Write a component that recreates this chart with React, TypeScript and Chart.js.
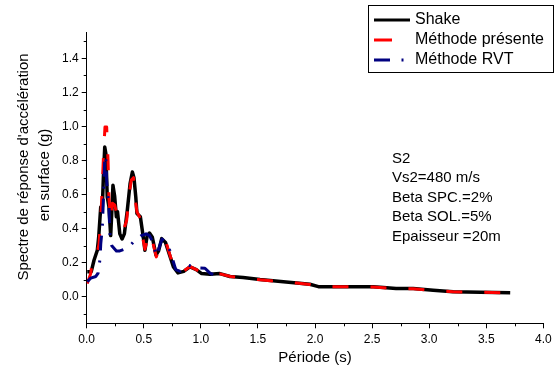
import React, { useEffect, useRef } from "react";
import { Chart, registerables } from "chart.js";

Chart.register(...registerables);

// Période (s) and spectral acceleration (g)
const shakeT = [0.005, 0.04, 0.064, 0.093, 0.105, 0.123, 0.137, 0.146, 0.158, 0.168, 0.18, 0.195, 0.21, 0.22, 0.23, 0.245, 0.26, 0.27, 0.29, 0.31, 0.33, 0.356, 0.38, 0.4, 0.414, 0.43, 0.44, 0.47, 0.5, 0.51, 0.53, 0.55, 0.575, 0.607, 0.63, 0.657, 0.69, 0.76, 0.8, 0.85, 0.905, 0.96, 1.007, 1.08, 1.167, 1.255, 1.37, 1.518, 1.7, 1.84, 1.955, 2.03, 2.25, 2.51, 2.6, 2.71, 2.86, 3.035, 3.21, 3.45, 3.71];
const shakeSa = [0.147, 0.148, 0.215, 0.274, 0.35, 0.528, 0.528, 0.7, 0.88, 0.84, 0.587, 0.53, 0.36, 0.5, 0.655, 0.59, 0.47, 0.5, 0.37, 0.34, 0.37, 0.51, 0.665, 0.733, 0.7, 0.587, 0.49, 0.47, 0.33, 0.274, 0.36, 0.375, 0.35, 0.245, 0.27, 0.342, 0.32, 0.176, 0.141, 0.15, 0.176, 0.16, 0.137, 0.133, 0.137, 0.12, 0.114, 0.102, 0.09, 0.082, 0.074, 0.06, 0.06, 0.059, 0.055, 0.049, 0.049, 0.039, 0.03, 0.027, 0.024];

const presT = [0.005, 0.035, 0.05, 0.08, 0.108, 0.128, 0.146, 0.16, 0.175, 0.187, 0.195, 0.21, 0.225, 0.245, 0.27, 0.3, 0.327, 0.35, 0.37, 0.39, 0.41, 0.43, 0.44, 0.47, 0.49, 0.51, 0.545, 0.575, 0.61, 0.66, 0.695, 0.76, 0.8, 0.85, 0.905, 0.96, 1.01, 1.08, 1.17, 1.26, 1.37, 1.52, 1.7, 1.84, 1.955, 2.03, 2.25, 2.51, 2.6, 2.71, 2.86, 3.035, 3.21, 3.45, 3.7];
const presSa = [0.078, 0.137, 0.215, 0.215, 0.31, 0.52, 0.81, 0.997, 0.997, 0.8, 0.58, 0.45, 0.55, 0.54, 0.47, 0.45, 0.4, 0.45, 0.59, 0.685, 0.7, 0.55, 0.5, 0.46, 0.35, 0.28, 0.375, 0.33, 0.235, 0.335, 0.32, 0.18, 0.142, 0.152, 0.178, 0.16, 0.14, 0.132, 0.135, 0.12, 0.112, 0.1, 0.09, 0.081, 0.073, 0.06, 0.06, 0.058, 0.054, 0.049, 0.048, 0.038, 0.03, 0.027, 0.024];

const rvtT = [0.005, 0.035, 0.08, 0.1, 0.117, 0.123, 0.137, 0.146, 0.158, 0.167, 0.175, 0.187, 0.195, 0.205, 0.22, 0.26, 0.29, 0.33, 0.38, 0.42, 0.48, 0.52, 0.55, 0.58, 0.61, 0.66, 0.7, 0.73, 0.78, 0.82, 0.89, 0.97, 1.036, 1.08, 1.15];
const rvtSa = [0.09, 0.11, 0.12, 0.14, 0.225, 0.31, 0.41, 0.57, 0.81, 0.83, 0.68, 0.58, 0.52, 0.34, 0.3, 0.27, 0.27, 0.28, 0.3, 0.33, 0.36, 0.37, 0.36, 0.32, 0.24, 0.34, 0.31, 0.27, 0.16, 0.15, 0.186, 0.17, 0.168, 0.14, 0.117];

const yTicks = [0, 0.2, 0.4, 0.6, 0.8, 1.0, 1.2, 1.4];
const yMinor = [-0.1, 0.1, 0.3, 0.5, 0.7, 0.9, 1.1, 1.3, 1.5];
const xMinor = [0.25, 0.75, 1.25, 1.75, 2.25, 2.75, 3.25, 3.75];

const seriesNames = ["Shake", "Méthode présente", "Méthode RVT"];
const infoLines = ["S2", "Vs2=480 m/s", "Beta SPC.=2%", "Beta SOL.=5%", "Epaisseur =20m"];
const xTitle = "Période (s)";
const yTitle = ["Spectre de réponse d'accélération", "en surface (g)"];

const FONT = "'Liberation Sans', Arial, sans-serif";

const toXY = (t: number[], v: number[]) => t.map((x, i) => ({ x, y: v[i] }));

const decorPlugin = {
  id: "decor",
  afterDraw(chart: any) {
    const ctx = chart.ctx as CanvasRenderingContext2D;
    const xs = chart.scales.x;
    const ys = chart.scales.y;
    const area = chart.chartArea;
    ctx.save();
    // minor ticks
    ctx.strokeStyle = "#000";
    ctx.lineWidth = 1;
    ctx.beginPath();
    yMinor.forEach((v) => {
      const py = Math.round(ys.getPixelForValue(v)) + 0.5;
      ctx.moveTo(area.left, py);
      ctx.lineTo(area.left - 3, py);
    });
    xMinor.forEach((v) => {
      const px = Math.round(xs.getPixelForValue(v)) + 0.5;
      ctx.moveTo(px, area.bottom);
      ctx.lineTo(px, area.bottom + 3);
    });
    ctx.stroke();

    // axis titles
    ctx.fillStyle = "#000";
    ctx.font = `15px ${FONT}`;
    ctx.textAlign = "center";
    ctx.textBaseline = "middle";
    ctx.fillText(xTitle, (area.left + area.right) / 2, 358);
    ctx.save();
    ctx.translate(24, 167);
    ctx.rotate(-Math.PI / 2);
    ctx.fillText(yTitle[0], 0, 0);
    ctx.restore();
    ctx.save();
    ctx.translate(45, 175);
    ctx.rotate(-Math.PI / 2);
    ctx.fillText(yTitle[1], 0, 0);
    ctx.restore();

    // info text
    ctx.textAlign = "left";
    ctx.font = `15px ${FONT}`;
    infoLines.forEach((s, i) => {
      ctx.fillText(s, 392, 158.5 + i * 19.5);
    });

    // legend box
    ctx.lineWidth = 1;
    ctx.strokeStyle = "#000";
    ctx.strokeRect(368.5, 5.5, 185, 67);
    ctx.font = `16px ${FONT}`;
    const rows = [20, 40, 60];
    rows.forEach((ry, i) => ctx.fillText(seriesNames[i], 415, ry));
    ctx.lineCap = "butt";
    ctx.lineWidth = 3;
    ctx.strokeStyle = "#000000";
    ctx.beginPath();
    ctx.moveTo(374, 20);
    ctx.lineTo(410, 20);
    ctx.stroke();
    ctx.strokeStyle = "#ff0000";
    ctx.beginPath();
    ctx.moveTo(374, 40);
    ctx.lineTo(392, 40);
    ctx.stroke();
    ctx.strokeStyle = "#000080";
    ctx.beginPath();
    ctx.moveTo(374, 60);
    ctx.lineTo(390, 60);
    ctx.moveTo(401.5, 60);
    ctx.lineTo(403.5, 60);
    ctx.stroke();
    ctx.restore();
  },
};

export default function App() {
  const ref = useRef<HTMLCanvasElement | null>(null);
  useEffect(() => {
    if (!ref.current) return;
    const chart = new Chart(ref.current, {
      type: "line",
      data: {
        datasets: [
          {
            label: seriesNames[0],
            data: toXY(shakeT, shakeSa),
            borderColor: "#000000",
            borderWidth: 3.5,
            pointRadius: 0,
            order: 2,
            borderJoinStyle: "round",
          },
          {
            label: seriesNames[1],
            data: toXY(presT, presSa),
            borderColor: "#ff0000",
            borderWidth: 3,
            borderDash: [16, 22],
            pointRadius: 0,
            order: 1,
            borderJoinStyle: "round",
          },
          {
            label: seriesNames[2],
            data: toXY(rvtT, rvtSa),
            borderColor: "#000080",
            borderWidth: 3,
            borderDash: [15, 10, 2, 10],
            pointRadius: 0,
            order: 0,
            borderJoinStyle: "round",
          },
        ],
      },
      options: {
        responsive: false,
        animation: false,
        devicePixelRatio: 1,
        layout: { padding: { left: 0, top: 32, right: 14.7, bottom: 0 } },
        plugins: { legend: { display: false }, tooltip: { enabled: false } },
        scales: {
          x: {
            type: "linear",
            min: 0,
            max: 4,
            afterFit: (s: any) => {
              s.height = 50.7;
            },
            border: { display: true, color: "#000", width: 1 },
            grid: { drawOnChartArea: false, drawTicks: true, tickLength: 5, color: "#000" },
            ticks: {
              stepSize: 0.5,
              padding: 4,
              color: "#000",
              font: { family: FONT, size: 12 },
              callback: (v: any) => Number(v).toFixed(1),
              maxRotation: 0,
            },
          },
          y: {
            type: "linear",
            min: -0.155,
            max: 1.555,
            afterFit: (s: any) => {
              s.width = 86.7;
            },
            afterBuildTicks: (s: any) => {
              s.ticks = yTicks.map((v) => ({ value: v }));
            },
            border: { display: true, color: "#000", width: 1 },
            grid: { drawOnChartArea: false, drawTicks: true, tickLength: 5, color: "#000" },
            ticks: {
              padding: 3,
              color: "#000",
              font: { family: FONT, size: 12 },
              callback: (v: any) => Number(v).toFixed(1),
            },
          },
        },
      },
      plugins: [decorPlugin],
    } as any);
    return () => chart.destroy();
  }, []);
  return (
    <div style={{ position: "absolute", left: 0, top: 0, width: 558, height: 374, background: "#fff" }}>
      <canvas ref={ref} width={558} height={374} style={{ display: "block", width: 558, height: 374 }} />
    </div>
  );
}
